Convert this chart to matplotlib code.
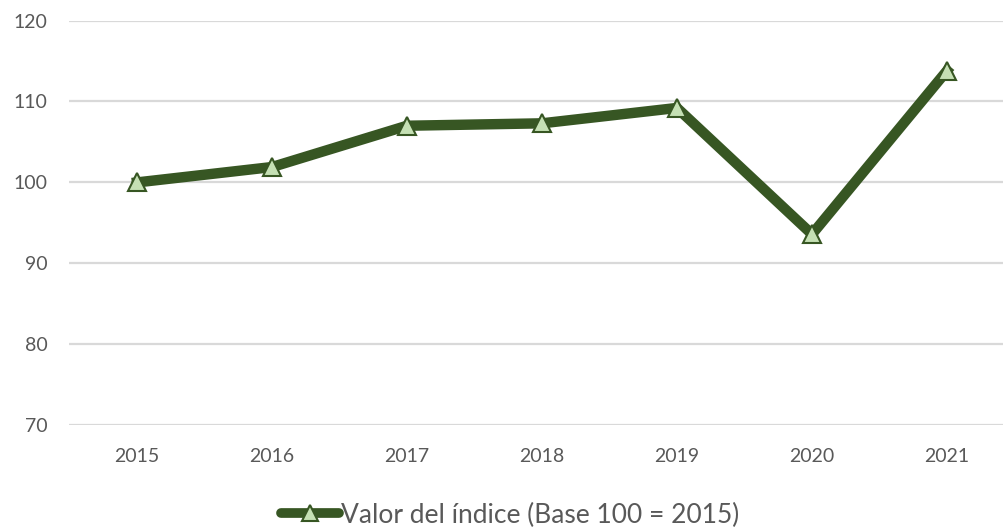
import matplotlib
matplotlib.use("Agg")
import matplotlib.pyplot as plt
from matplotlib.lines import Line2D

years = ["2015", "2016", "2017", "2018", "2019", "2020", "2021"]
values = [100.0, 101.9, 107.0, 107.3, 109.2, 93.6, 113.8]
y_ticks = [70, 80, 90, 100, 110, 120]
series_label = "Valor del índice (Base 100 = 2015)"

line_color = "#375623"
marker_fill = "#C5E0B4"
grid_color = "#D9D9D9"
text_color = "#595959"

plt.rcParams['font.family'] = ['Lato', 'DejaVu Sans']

fig = plt.figure(figsize=(10.04, 5.28), dpi=100)
left = 69.5 / 1004
right = 1014.5 / 1004
top = 1 - 20.5 / 528
bottom = 1 - 425.3 / 528
ax = fig.add_axes([left, bottom, right - left, top - bottom])

x = list(range(len(years)))
ax.plot(x, values, color=line_color, linewidth=7.5, solid_joinstyle='miter',
        marker='^', markersize=12.5, markerfacecolor=marker_fill,
        markeredgecolor=line_color, markeredgewidth=1.5, zorder=3, clip_on=False)

ax.set_xlim(-0.5, len(years) - 0.5)
ax.set_ylim(70, 120)
ax.set_yticks(y_ticks)
ax.set_xticks(x)
ax.set_xticklabels(years)
ax.yaxis.grid(True, color=grid_color, linewidth=1.6)
ax.set_axisbelow(True)
for s in ax.spines.values():
    s.set_visible(False)
ax.tick_params(axis='both', length=0, labelsize=14, colors=text_color)
ax.tick_params(axis='y', pad=16)
ax.tick_params(axis='x', pad=16)

handle = Line2D([0], [0], color=line_color, linewidth=7, marker='^', markersize=12,
                markerfacecolor=marker_fill, markeredgecolor=line_color, markeredgewidth=1.5,
                solid_capstyle='round')
fig.legend([handle], [series_label], loc='center', bbox_to_anchor=(0.508, 1 - 515 / 528),
           frameon=False, fontsize=19, labelcolor=text_color, handlelength=2.2,
           handletextpad=0.1, borderpad=0)

fig.savefig("out.png", dpi=100)
